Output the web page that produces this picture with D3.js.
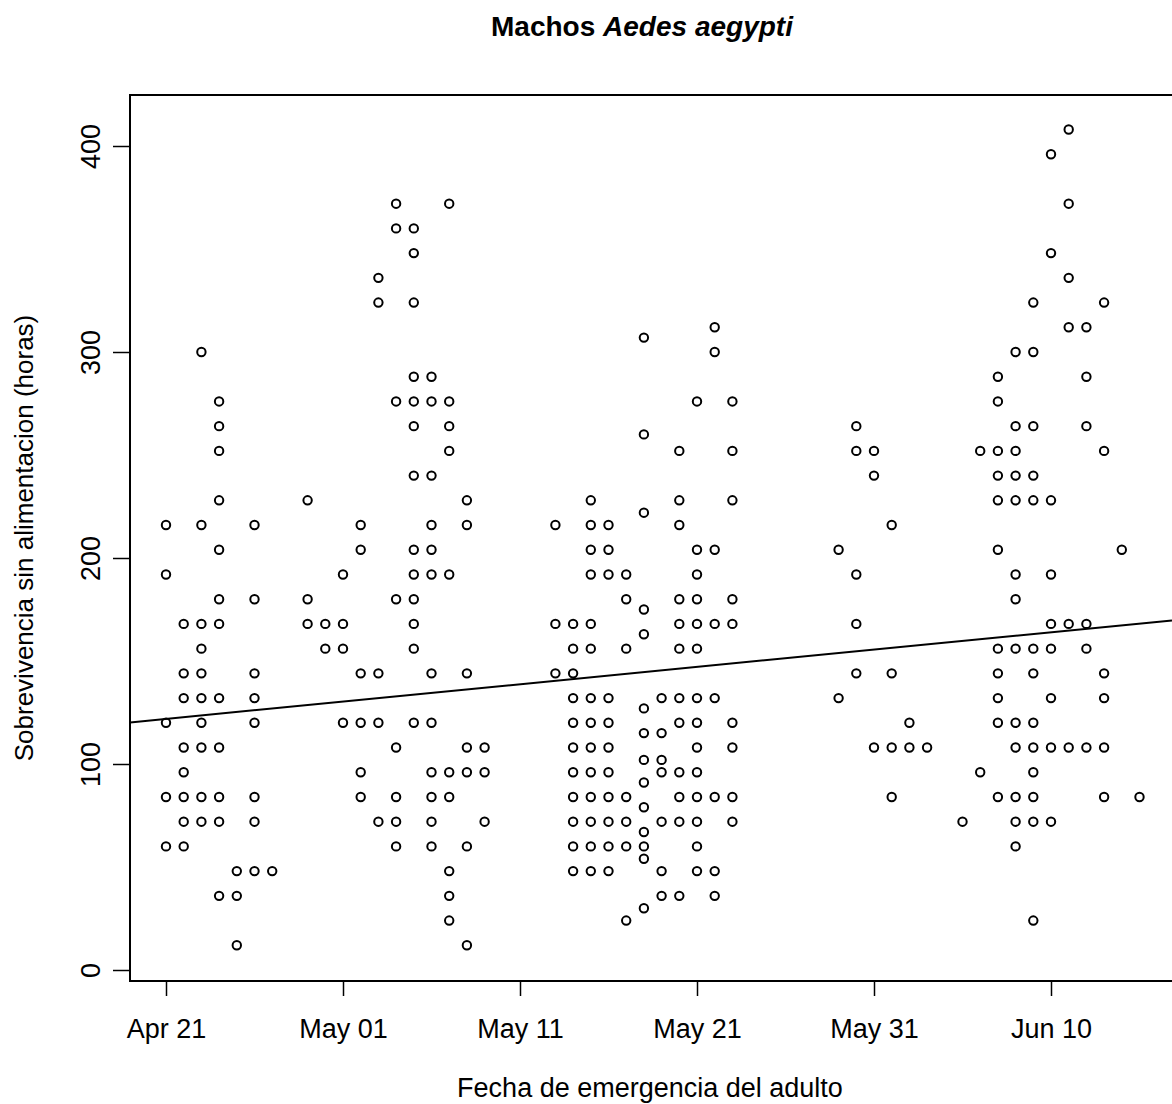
<!DOCTYPE html>
<meta charset="utf-8">
<script src="https://cdn.jsdelivr.net/npm/d3@7"></script>
<style>
  body { margin: 0; background: #fff; }
  text { font-family: "Liberation Sans", Arial, Helvetica, sans-serif; fill: #000; }
</style>
<body>
<script>

// emergence date of each cohort (one column of points per date)
var emergence = [
  "2010-04-21", "2010-04-22", "2010-04-23", "2010-04-24", "2010-04-25", "2010-04-26", "2010-04-27",
  "2010-04-29", "2010-04-30", "2010-05-01", "2010-05-02", "2010-05-03", "2010-05-04", "2010-05-05",
  "2010-05-06", "2010-05-07", "2010-05-08", "2010-05-09",
  "2010-05-13", "2010-05-14", "2010-05-15", "2010-05-16", "2010-05-17", "2010-05-18", "2010-05-19",
  "2010-05-20", "2010-05-21", "2010-05-22", "2010-05-23",
  "2010-05-29", "2010-05-30", "2010-05-31", "2010-06-01", "2010-06-02", "2010-06-03",
  "2010-06-05", "2010-06-06", "2010-06-07", "2010-06-08", "2010-06-09", "2010-06-10", "2010-06-11",
  "2010-06-12", "2010-06-13", "2010-06-14", "2010-06-15"
]

// survival without food (hours) of each male, grouped by emergence date
var survival = [
  [216, 192, 120, 84, 60],
  [168, 144, 132, 108, 96, 84, 72, 60],
  [300, 216, 168, 156, 144, 132, 120, 108, 84, 72],
  [276, 264, 252, 228, 204, 180, 168, 132, 108, 84, 72, 36],
  [48, 36, 12],
  [216, 180, 144, 132, 120, 84, 72, 48],
  [48],
  [228, 180, 168],
  [168, 156],
  [192, 168, 156, 120],
  [216, 204, 144, 120, 96, 84],
  [336, 324, 144, 120, 72],
  [372, 360, 276, 180, 108, 84, 72, 60],
  [360, 348, 324, 288, 276, 264, 240, 204, 192, 180, 168, 156, 120],
  [288, 276, 240, 216, 204, 192, 144, 120, 96, 84, 72, 60],
  [372, 276, 264, 252, 192, 96, 84, 48, 36, 24],
  [228, 216, 144, 108, 96, 60, 12],
  [108, 96, 72],
  [216, 168, 144],
  [168, 156, 144, 132, 120, 108, 96, 84, 72, 60, 48],
  [228, 216, 204, 192, 168, 156, 132, 120, 108, 96, 84, 72, 60, 48],
  [216, 204, 192, 132, 120, 108, 96, 84, 72, 60, 48],
  [192, 180, 156, 84, 72, 60, 24],
  [307, 260, 222, 175, 163, 127, 115, 102, 91, 79, 67, 60, 54, 30],
  [132, 115, 102, 96, 72, 48, 36],
  [252, 228, 216, 180, 168, 156, 132, 120, 96, 84, 72, 36],
  [276, 204, 192, 180, 168, 156, 132, 120, 108, 96, 84, 72, 60, 48],
  [312, 300, 204, 168, 132, 84, 48, 36],
  [276, 252, 228, 180, 168, 120, 108, 84, 72],
  [204, 132],
  [264, 252, 192, 168, 144],
  [252, 240, 108],
  [216, 144, 108, 84],
  [120, 108],
  [108],
  [72],
  [252, 96],
  [288, 276, 252, 240, 228, 204, 156, 144, 132, 120, 84],
  [300, 264, 252, 240, 228, 192, 180, 156, 120, 108, 84, 72, 60],
  [324, 300, 264, 240, 228, 156, 144, 120, 108, 96, 84, 72, 24],
  [396, 348, 228, 192, 168, 156, 132, 108, 72],
  [408, 372, 336, 312, 168, 108],
  [312, 288, 264, 168, 156, 108],
  [324, 252, 144, 132, 108, 84],
  [204],
  [84]
]

var tickDates = ["2010-04-21", "2010-05-01", "2010-05-11", "2010-05-21", "2010-05-31", "2010-06-10"]
var tickLabels = ["Apr 21", "May 01", "May 11", "May 21", "May 31", "Jun 10"]
var yTicks = [0, 100, 200, 300, 400]

// fitted line: hours = fitIntercept + fitSlope * (days since Apr 21)
var fitIntercept = 121.9
var fitSlope = 0.841

var parse = d3.utcParse("%Y-%m-%d")
var start = parse(tickDates[0])

var width = 1172, height = 1104
var box = {left: 130, top: 95, bottom: 981, right: 1190}

var x = d3.scaleUtc().domain([parse(tickDates[0]), parse(tickDates[5])]).range([166, 1051])
var y = d3.scaleLinear().domain([0, 400]).range([970, 146])

var svg = d3.select("body").append("svg")
    .attr("width", width)
    .attr("height", height)

svg.append("defs").append("clipPath").attr("id", "plot")
  .append("rect")
    .attr("x", box.left).attr("y", box.top)
    .attr("width", box.right - box.left).attr("height", box.bottom - box.top)

// title
var title = svg.append("text")
    .attr("x", 642).attr("y", 36)
    .attr("text-anchor", "middle")
    .style("font-size", "28px")
    .style("font-weight", "bold")
title.append("tspan").text("Machos ")
title.append("tspan").style("font-style", "italic").text("Aedes aegypti")

// points
var points = []
emergence.forEach(function(d, i) {
  survival[i].forEach(function(h) { points.push({date: parse(d), hours: h}) })
})

svg.append("g").selectAll("circle")
  .data(points)
  .enter().append("circle")
    .attr("cx", function(d) { return x(d.date) })
    .attr("cy", function(d) { return y(d.hours) })
    .attr("r", 4.2)
    .attr("fill", "none")
    .attr("stroke", "#000")
    .attr("stroke-width", 2)

// regression line
var dayMs = 864e5
var fitDates = [x.invert(box.left), x.invert(width)]
var line = d3.line()
    .x(function(d) { return x(d) })
    .y(function(d) { return y(fitIntercept + fitSlope * (d - start) / dayMs) })
svg.append("path")
    .attr("d", line(fitDates))
    .attr("clip-path", "url(#plot)")
    .attr("fill", "none")
    .attr("stroke", "#000")
    .attr("stroke-width", 2)

// box
svg.append("rect")
    .attr("x", box.left).attr("y", box.top)
    .attr("width", box.right - box.left).attr("height", box.bottom - box.top)
    .attr("fill", "none")
    .attr("stroke", "#000")
    .attr("stroke-width", 2)

// x axis
var xAxis = svg.append("g")
    .attr("transform", "translate(0," + box.bottom + ")")
    .call(d3.axisBottom(x)
      .tickValues(tickDates.map(parse))
      .tickFormat(function(d, i) { return tickLabels[i] })
      .tickSize(15)
      .tickPadding(23))
xAxis.select(".domain").remove()
xAxis.selectAll("line").attr("stroke-width", 1.5)
xAxis.selectAll("text").style("font-size", "27px")

// y axis
var yAxis = svg.append("g")
    .attr("transform", "translate(" + box.left + ",0)")
    .call(d3.axisLeft(y).tickValues(yTicks).tickSize(17))
yAxis.select(".domain").remove()
yAxis.selectAll("line").attr("stroke-width", 1.5)
yAxis.selectAll("text")
    .attr("x", null).attr("dy", null)
    .attr("transform", "translate(-30,0) rotate(-90)")
    .attr("text-anchor", "middle")
    .style("font-size", "27px")

// axis titles
svg.append("text")
    .attr("x", 650).attr("y", 1097)
    .attr("text-anchor", "middle")
    .style("font-size", "27px")
    .text("Fecha de emergencia del adulto")

svg.append("text")
    .attr("transform", "translate(33," + ((box.top + box.bottom) / 2) + ") rotate(-90)")
    .attr("text-anchor", "middle")
    .style("font-size", "26px")
    .text("Sobrevivencia sin alimentacion (horas)")

</script>
</body>
